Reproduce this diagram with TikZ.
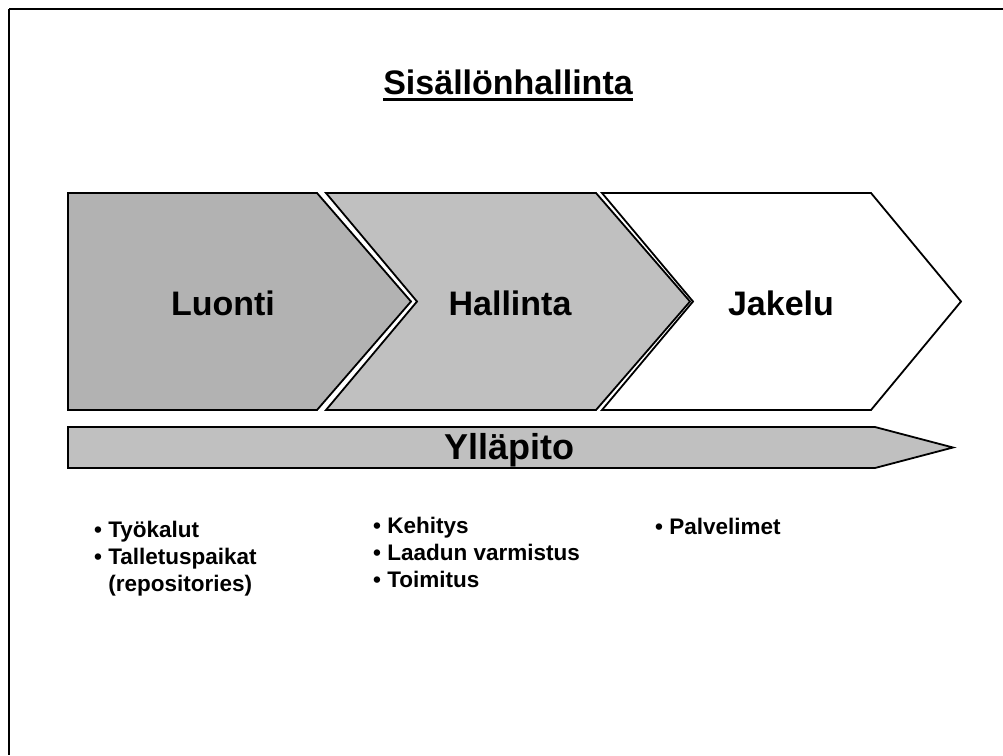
\documentclass[tikz,border=0pt]{standalone}
\usepackage{fontspec}
\setmainfont{Liberation Sans}
\definecolor{darkfill}{HTML}{B2B2B2}
\definecolor{lightfill}{HTML}{C0C0C0}
\begin{document}
\begin{tikzpicture}[x=1pt,y=-1pt,
  stage/.style={draw=black,line width=1.8pt,line join=miter},
  biglabel/.style={font=\bfseries\fontsize{34}{40}\selectfont,inner sep=0pt,anchor=base},
  item/.style={font=\bfseries\fontsize{22.5}{27}\selectfont,inner sep=0pt,anchor=base west}]
\useasboundingbox (0,0) rectangle (1003,755);
\fill[white] (0,0) rectangle (1003,755);

% slide frame (top and left edges)
\draw[line width=2pt] (9,9) -- (1003,9);
\draw[line width=1.6pt] (9,9) -- (9,755);

% title
\node[font=\bfseries\fontsize{34}{40}\selectfont,inner sep=0pt,anchor=base] (title) at (508,94) {Sisällönhallinta};
\draw[line width=2.5pt] ([yshift=-5.5pt]title.base west) -- ([yshift=-5.5pt]title.base east);

% value chain chevrons
\draw[stage,fill=darkfill] (68,193) -- (317,193) -- (411,301.5) -- (317,410) -- (68,410) -- cycle;
\draw[stage,fill=lightfill] (326,193) -- (596,193) -- (690,301.5) -- (596,410) -- (326,410) -- (417,301.5) -- cycle;
\draw[stage,fill=white] (602,193) -- (871,193) -- (961,301.5) -- (871,410) -- (602,410) -- (693,301.5) -- cycle;

\node[biglabel] (luonti) at (223,315) {Luonti};
\node[biglabel] (hallinta) at (510,315) {Hallinta};
\node[biglabel] (jakelu) at (781,315) {Jakelu};

% maintenance arrow
\draw[stage,fill=lightfill] (68,427) -- (875,427) -- (953,447.5) -- (875,468) -- (68,468) -- cycle;
\node[biglabel,font=\bfseries\fontsize{36}{42}\selectfont] (yllapito) at (509,459.5) {Ylläpito};

% item lists
\node[item] (t1) at (94,537) {• Työkalut};
\node[item] (t2) at (94,564) {• Talletuspaikat};
\node[item] (t3) at (94,591) {\hphantom{• }(repositories)};

\node[item] (k1) at (373,533) {• Kehitys};
\node[item] (k2) at (373,560) {• Laadun varmistus};
\node[item] (k3) at (373,587) {• Toimitus};

\node[item] (p1) at (655,534) {• Palvelimet};
\end{tikzpicture}
\end{document}
